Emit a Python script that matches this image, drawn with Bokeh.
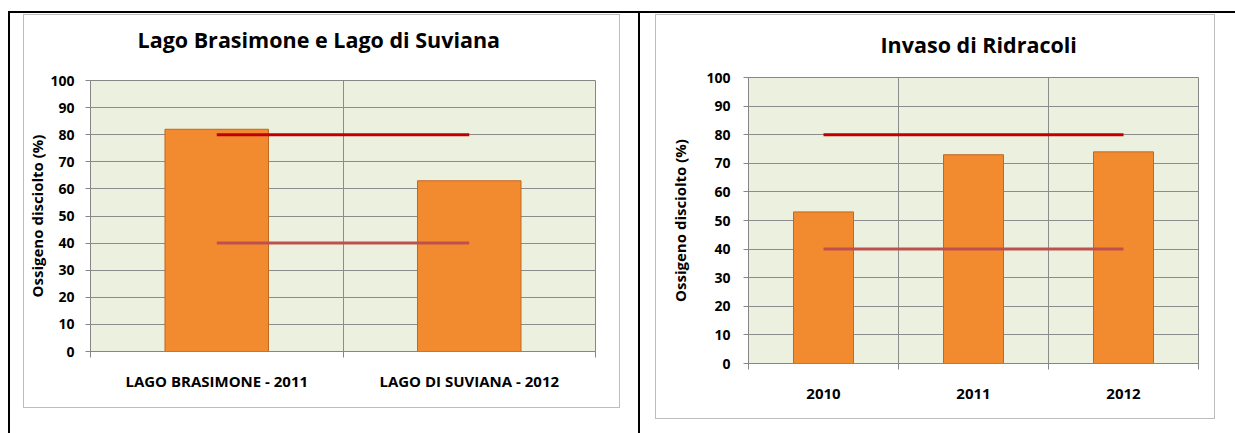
from bokeh.plotting import figure
from bokeh.models import Range1d, FixedTicker, Div, Spacer, Title
from bokeh.layouts import row, column
from bokeh.embed import file_html
from bokeh.resources import INLINE

# ---- data ----
title_left = "Lago Brasimone e Lago di Suviana"
cats_left = ["LAGO BRASIMONE - 2011", "LAGO DI SUVIANA - 2012"]
vals_left = [82, 63]
hi_left = [80, 80]
lo_left = [40, 40]

title_right = "Invaso di Ridracoli"
cats_right = ["2010", "2011", "2012"]
vals_right = [53, 73, 74]
hi_right = [80, 80, 80]
lo_right = [40, 40, 40]

y_label = "Ossigeno disciolto (%)"
y_ticks = [0, 10, 20, 30, 40, 50, 60, 70, 80, 90, 100]

FONT = "Open Sans"
GRID = "#8C8C8C"
AXIS = "#868686"
FRAME = "#BDBDBD"


def make_chart(title, cats, vals, hi, lo, w, h, bl, br, bt, bb,
               bar_w, title_offset, gap, xl_standoff, yt_standoff, yl_standoff):
    n = len(cats)
    centers = [i + 0.5 for i in range(n)]
    bounds = [i for i in range(n + 1)]
    p = figure(width=w, height=h, x_range=Range1d(0, n), y_range=Range1d(0, 100),
               output_backend="svg", toolbar_location=None,
               min_border_left=bl, min_border_right=br, min_border_top=bt, min_border_bottom=bb,
               background_fill_color="#EBF1DE", border_fill_color="white",
               outline_line_color=AXIS, outline_line_width=1, margin=0)
    p.title.visible = False
    # blank spacer title next to the frame, then the real title above it
    p.add_layout(Title(text=" ", text_font_size="1px", standoff=gap), "above")
    p.add_layout(Title(text=title, align="left", offset=title_offset, standoff=0,
                       text_font=FONT, text_font_size="21.5px", text_font_style="bold",
                       text_color="black"), "above")

    p.vbar(x=centers, top=vals, width=bar_w, bottom=0,
           fill_color="#F28B30", line_color="#C06820", line_width=1)
    p.line(x=centers, y=hi, line_color="#C00000", line_width=3)
    p.line(x=centers, y=lo, line_color="#C0504D", line_width=3)

    # grids
    p.xgrid.ticker = FixedTicker(ticks=bounds)
    p.ygrid.ticker = FixedTicker(ticks=y_ticks)
    for g in (p.xgrid, p.ygrid):
        g.grid_line_color = GRID
        g.grid_line_width = 1

    # x axis
    xa = p.xaxis[0]
    xa.ticker = FixedTicker(ticks=centers, minor_ticks=bounds)
    xa.major_label_overrides = {c: lab for c, lab in zip(centers, cats)}
    xa.major_tick_out = 0
    xa.major_tick_in = 0
    xa.minor_tick_out = 6
    xa.minor_tick_in = 0
    xa.minor_tick_line_color = AXIS
    xa.axis_line_color = AXIS
    xa.major_label_standoff = xl_standoff
    xa.major_label_text_font = FONT
    xa.major_label_text_font_size = "15px"
    xa.major_label_text_font_style = "bold"
    xa.major_label_text_color = "black"

    # y axis
    ya = p.yaxis[0]
    ya.ticker = FixedTicker(ticks=y_ticks)
    ya.major_tick_out = 5
    ya.major_tick_in = 0
    ya.minor_tick_out = 0
    ya.minor_tick_in = 0
    ya.major_tick_line_color = AXIS
    ya.axis_line_color = AXIS
    ya.major_label_standoff = yt_standoff
    ya.major_label_text_font = FONT
    ya.major_label_text_font_size = "14px"
    ya.major_label_text_font_style = "bold"
    ya.major_label_text_color = "black"
    ya.axis_label = y_label
    ya.axis_label_standoff = yl_standoff
    ya.axis_label_text_font = FONT
    ya.axis_label_text_font_size = "15px"
    ya.axis_label_text_font_style = "bold"
    ya.axis_label_text_color = "black"
    return p


def hline(w, color, hgt=1):
    return Div(width=w, height=hgt, margin=0, styles={"background-color": color})


def vline(hgt, color, w=1):
    return Div(width=w, height=hgt, margin=0, styles={"background-color": color})


def framed(p, w, h):
    return column(
        Spacer(height=1, margin=0),
        hline(w + 2, FRAME),
        row(vline(h, FRAME), p, vline(h, FRAME), margin=0),
        hline(w + 2, FRAME),
        margin=0,
    )


p1 = make_chart(title_left, cats_left, vals_left, hi_left, lo_left,
                595, 392, 66, 24, 65, 56, 0.41, 47, 24, 13, 11, 0)
p2 = make_chart(title_right, cats_right, vals_right, hi_right, lo_right,
                558, 403, 92, 16, 62, 55, 0.40, 132, 16, 19, 13, 13)

body = row(
    Spacer(width=8, margin=0),
    vline(420, "black", 2),
    Spacer(width=13, margin=0),
    framed(p1, 595, 392),
    Spacer(width=18, margin=0),
    vline(420, "black", 2),
    Spacer(width=15, margin=0),
    framed(p2, 558, 403),
    margin=0,
)
top = row(Spacer(width=8, margin=0), hline(1227, "black", 2), margin=0)
page = column(Spacer(height=11, margin=0), top, body, margin=0)

open("out.html", "w").write(file_html(page, INLINE))
